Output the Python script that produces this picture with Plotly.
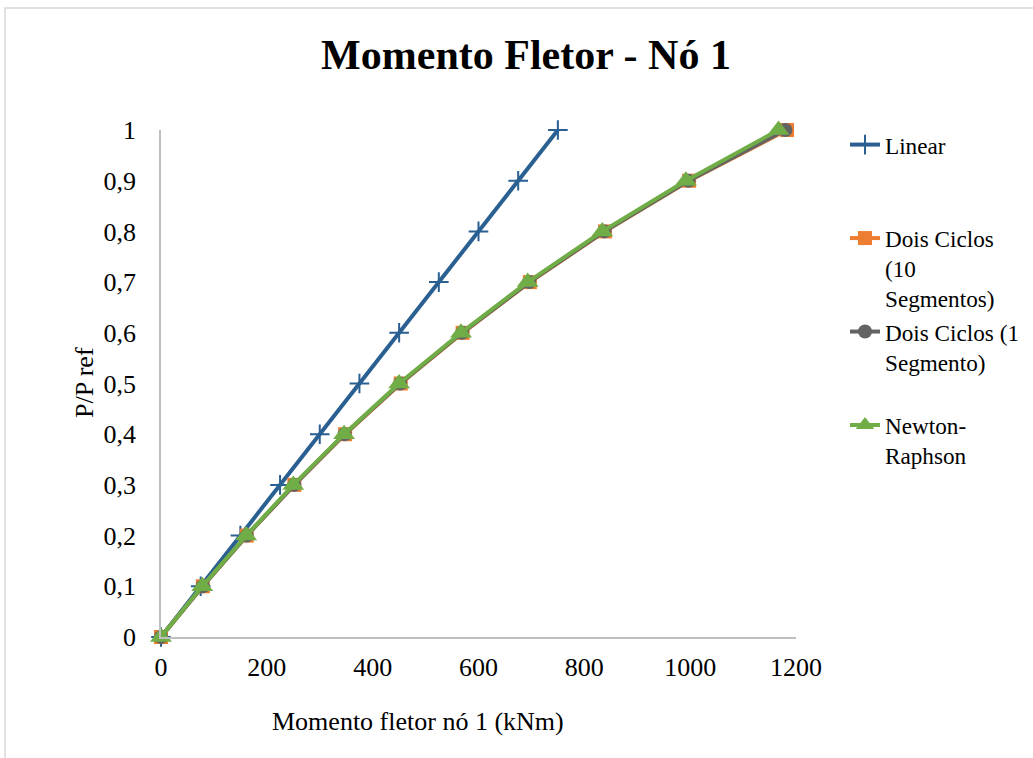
import plotly.graph_objects as go

# Load factor steps (P/P ref)
load_factor = [0, 0.1, 0.2, 0.3, 0.4, 0.5, 0.6, 0.7, 0.8, 0.9, 1.0]

# Bending moment at node 1 (kNm) for each analysis
moment_linear = [0, 75, 150, 225, 300, 375, 450, 525, 600, 675, 750]
moment_dois_ciclos_10 = [0, 79, 162, 252, 348, 453, 570, 697, 839, 998, 1183]
moment_dois_ciclos_1 = [0, 79, 162, 252, 347, 452, 569, 696, 838, 997, 1180]
moment_newton_raphson = [0, 78, 161, 250, 346, 450, 567, 693, 834, 992, 1167]

# Axis ticks
x_ticks = [0, 200, 400, 600, 800, 1000, 1200]
x_labels = ["0", "200", "400", "600", "800", "1000", "1200"]
y_ticks = [0, 0.1, 0.2, 0.3, 0.4, 0.5, 0.6, 0.7, 0.8, 0.9, 1.0]
y_labels = ["0", "0,1", "0,2", "0,3", "0,4", "0,5", "0,6", "0,7", "0,8", "0,9", "1"]

FONT = "Liberation Serif"
W, H = 1033, 758
L, R, T, B = 161, 237, 130, 121
PW, PH = W - L - R, H - T - B

fig = go.Figure()

# Legend names are padded to a common three-line slot
fig.add_trace(go.Scatter(
    x=moment_linear, y=load_factor, mode="lines+markers",
    name="Linear<br> <br> ",
    line=dict(color="#2A5F92", width=4),
    marker=dict(symbol="cross-thin", size=14, line=dict(color="#2A5F92", width=2)),
    cliponaxis=False,
))
fig.add_trace(go.Scatter(
    x=moment_dois_ciclos_10, y=load_factor, mode="lines+markers",
    name="Dois Ciclos<br>(10<br>Segmentos)",
    line=dict(color="#ED7D31", width=4),
    marker=dict(symbol="square", size=14, color="#ED7D31"),
    cliponaxis=False,
))
fig.add_trace(go.Scatter(
    x=moment_dois_ciclos_1, y=load_factor, mode="lines+markers",
    name="Dois Ciclos (1 <br>Segmento)<br> ",
    line=dict(color="#636363", width=4),
    marker=dict(symbol="circle", size=14, color="#636363"),
    cliponaxis=False,
))
fig.add_trace(go.Scatter(
    x=moment_newton_raphson, y=load_factor, mode="lines+markers",
    name="Newton-<br>Raphson<br> ",
    line=dict(color="#70AD47", width=4),
    marker=dict(symbol="triangle-up", size=19, color="#70AD47"),
    cliponaxis=False,
))


def px_to_paper_x(px):
    return (px - L) / PW


def px_to_paper_y(py):
    return (H - B - py) / PH


fig.update_layout(
    width=W, height=H,
    margin=dict(l=L, r=R, t=T, b=B, autoexpand=False),
    paper_bgcolor="white", plot_bgcolor="white",
    font=dict(family=FONT, color="black", size=24),
    title=dict(
        text="<b>Momento Fletor - Nó 1</b>",
        font=dict(family=FONT, size=42, color="black"),
        x=526 / W, xref="container", xanchor="center",
        y=1 - 54 / H, yref="container", yanchor="middle",
    ),
    showlegend=True,
    legend=dict(
        x=px_to_paper_x(845), xanchor="left",
        y=px_to_paper_y(123), yanchor="top",
        valign="top",
        font=dict(family=FONT, size=23.2, color="black"),
        tracegroupgap=0,
        bgcolor="rgba(0,0,0,0)",
        itemwidth=30,
        maxheight=700,
    ),
    xaxis=dict(
        range=[0, 1200], tickvals=x_ticks, ticktext=x_labels,
        showgrid=False, zeroline=False,
        showline=True, linecolor="#BFBFBF", linewidth=1.5,
        ticks="", ticklabelstandoff=6, automargin=False,
        tickfont=dict(family=FONT, size=26, color="black"),
    ),
    yaxis=dict(
        range=[0, 1], tickvals=y_ticks, ticktext=y_labels,
        showgrid=False, zeroline=False,
        showline=True, linecolor="#BFBFBF", linewidth=1.5,
        ticks="", ticklabelstandoff=18, automargin=False,
        tickfont=dict(family=FONT, size=26, color="black"),
    ),
    annotations=[
        dict(text="Momento fletor nó 1 (kNm)", xref="paper", yref="paper",
             x=px_to_paper_x(418), y=px_to_paper_y(721),
             xanchor="center", yanchor="middle", showarrow=False,
             font=dict(family=FONT, size=26, color="black")),
        dict(text="P/P ref", xref="paper", yref="paper",
             x=px_to_paper_x(84), y=px_to_paper_y(383), textangle=-90,
             xanchor="center", yanchor="middle", showarrow=False,
             font=dict(family=FONT, size=26, color="black")),
    ],
    shapes=[
        dict(type="rect", xref="paper", yref="paper",
             x0=px_to_paper_x(5), x1=px_to_paper_x(W + 20),
             y0=px_to_paper_y(H + 20), y1=px_to_paper_y(8),
             line=dict(color="#D9D9D9", width=1.5), fillcolor="rgba(0,0,0,0)",
             layer="below"),
    ],
)

fig.write_html("out.html")
